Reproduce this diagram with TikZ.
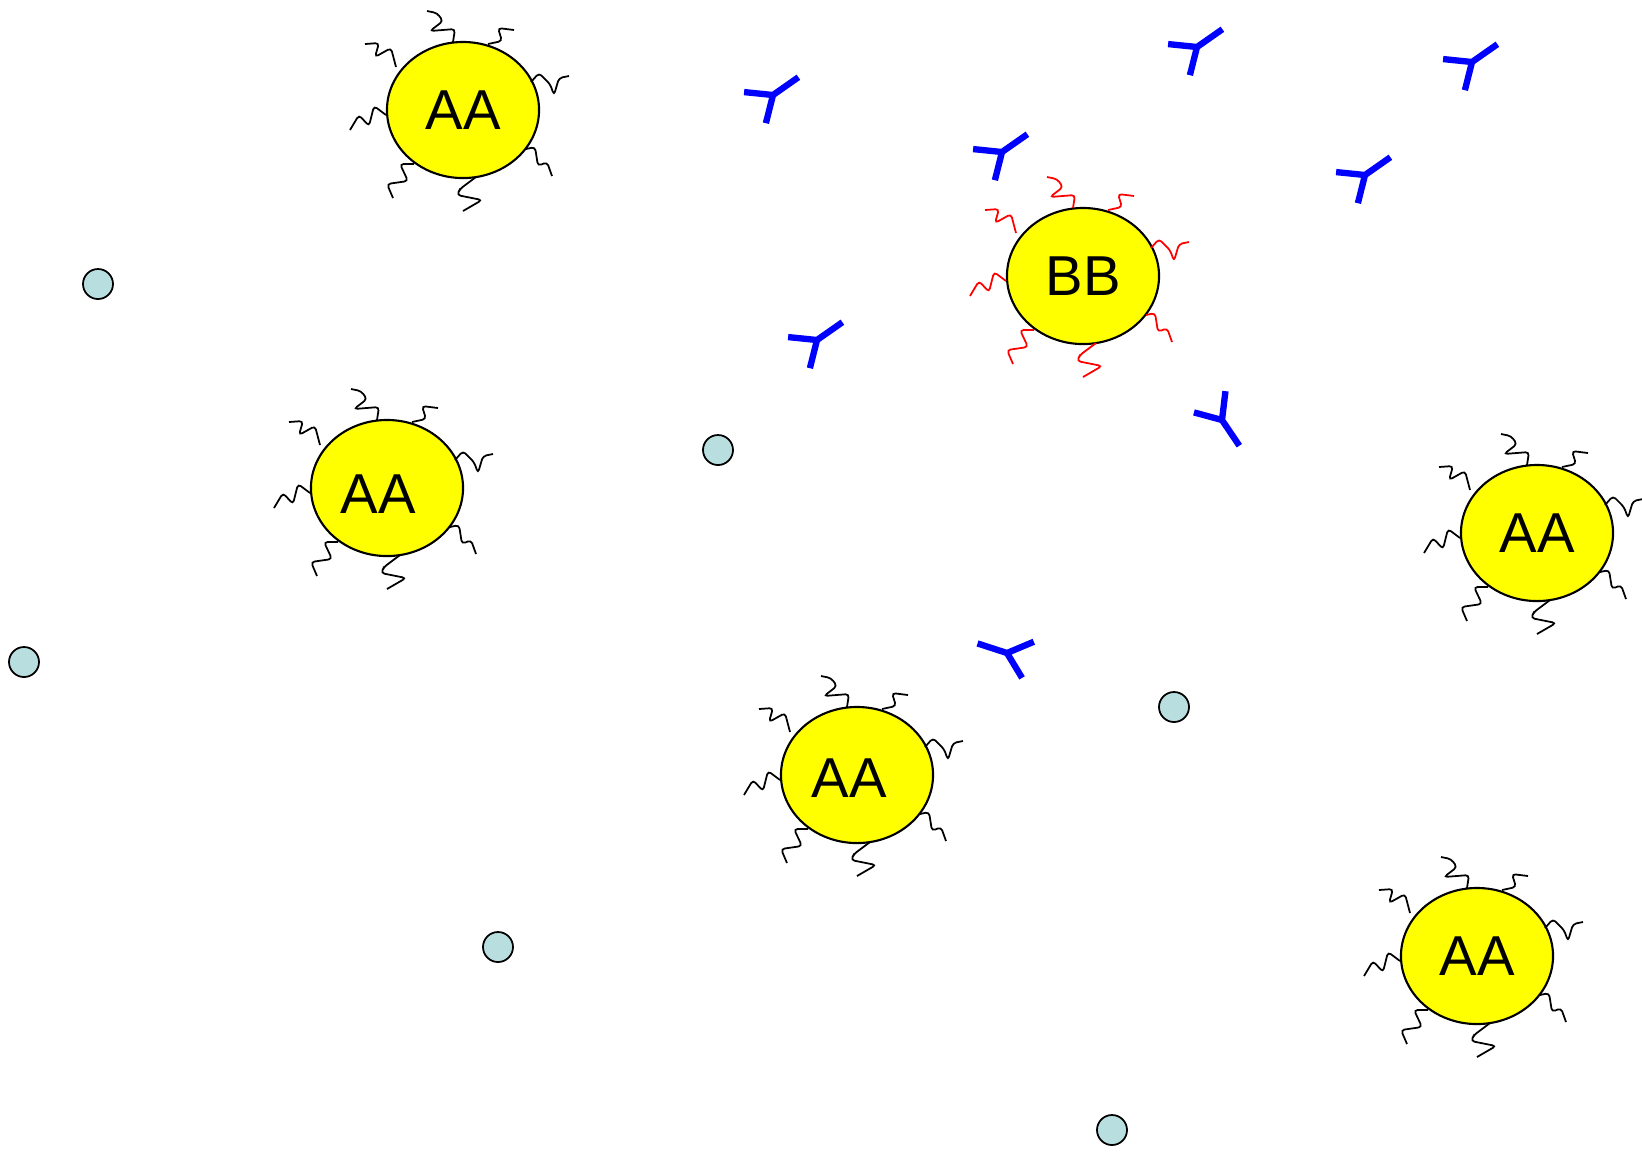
\documentclass[tikz,border=0pt]{standalone}
\usepackage{fontspec}
\setmainfont{Liberation Sans}
\usetikzlibrary{shapes.geometric}

\definecolor{cellyellow}{RGB}{255,255,0}
\definecolor{abblue}{RGB}{0,0,255}
\definecolor{beadblue}{RGB}{184,222,224}

% hairs round a cell, measured from its centre
\tikzset{
  pics/tails/.style={code={
    \draw[tail] (-10,-68) -- (-8,-81) -- (-33,-79) -- (-20,-89) -- (-26,-97) -- (-36,-99);
    \draw[tail] (25,-66) -- (39,-69) -- (35,-82) -- (51,-80);
    \draw[tail] (68,-28) -- (76,-37) -- (87,-26) -- (91,-15) -- (96,-32) -- (106,-34);
    \draw[tail] (63,39) -- (72,37) -- (75,56) -- (84,52) -- (89,66);
    \draw[tail] (13,67) -- (-3,79) -- (-6,85) -- (19,90) -- (0,101);
    \draw[tail] (-49,54) -- (-63,54) -- (-55,71) -- (-76,74) -- (-70,88);
    \draw[tail] (-77,5) -- (-89,-4) -- (-94,16) -- (-104,5) -- (-113,20);
    \draw[tail] (-67,-43) -- (-72,-62) -- (-88,-53) -- (-84,-67) -- (-98,-66);
  }},
  % Y-shaped antibody, arms pointing up before rotation
  pics/antibody/.style={code={
    \draw[ab] (-19,-22) -- (0,0) -- (19,-22) (0,0) -- (0,31);
  }}
}

\begin{document}
\begin{tikzpicture}[x=0.01cm,y=-0.01cm,
    cell/.style={ellipse,draw,line width=0.6pt,fill=cellyellow,
      minimum width=1.52cm,minimum height=1.36cm,inner sep=0pt,
      font=\fontsize{16}{19}\selectfont},
    bead/.style={circle,draw,line width=0.5pt,fill=beadblue,
      minimum size=0.3cm,inner sep=0pt},
    tail/.style={line width=0.5pt,rounded corners=1pt},
    ab/.style={abblue,line width=1.8pt}]
  \useasboundingbox (0,0) rectangle (1642,1153);

  % cells
  \node[cell] (A1) at (463,110) {AA};
  \node[cell] (B) at (1083,276) {BB};
  \node[cell] (A2) at (387,488) {};
  \node[cell] (A3) at (1537,533) {AA};
  \node[cell] (A4) at (857,775) {};
  \node[cell] (A5) at (1477,956) {AA};
  % these two labels sit a little off centre
  \node[font=\fontsize{16}{19}\selectfont] (l2) at ([shift={(-9,6)}]A2.center) {AA};
  \node[font=\fontsize{16}{19}\selectfont] (l4) at ([shift={(-8,3)}]A4.center) {AA};

  \pic at (A1) {tails};
  \pic[red] at (B) {tails};
  \pic at (A2) {tails};
  \pic at (A3) {tails};
  \pic at (A4) {tails};
  \pic at (A5) {tails};

  % antibodies
  \pic[rotate=125] at (773,95) {antibody};
  \pic[rotate=125] at (1002,152) {antibody};
  \pic[rotate=125] at (1197,47) {antibody};
  \pic[rotate=125] at (1472,62) {antibody};
  \pic[rotate=125] at (1365,175) {antibody};
  \pic[rotate=125] at (817,340) {antibody};
  \pic[rotate=34] at (1222,420) {antibody};
  \pic[rotate=252] at (1007,653) {antibody};

  % beads
  \node[bead] (b1) at (98,284) {};
  \node[bead] (b2) at (718,450) {};
  \node[bead] (b3) at (24,662) {};
  \node[bead] (b4) at (1174,707) {};
  \node[bead] (b5) at (498,947) {};
  \node[bead] (b6) at (1112,1130) {};
\end{tikzpicture}
\end{document}
